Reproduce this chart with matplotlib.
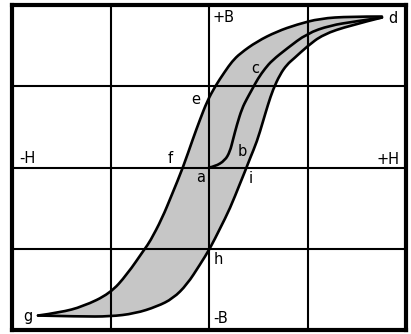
import numpy as np
import matplotlib.pyplot as plt
from matplotlib.path import Path
from matplotlib.patches import PathPatch

# upper (descending) branch, g -> f -> e -> d
upper_h = [-1.736, -1.513, -1.279, -1.005, -0.832, -0.650, -0.599, -0.477, -0.376,
           -0.264, -0.162, -0.091, -0.020, 0.061, 0.162, 0.234, 0.315, 0.487,
           0.690, 0.893, 1.127, 1.431, 1.756]
upper_b = [-1.822, -1.785, -1.711, -1.551, -1.317, -0.997, -0.911, -0.628, -0.332,
           0.0, 0.357, 0.591, 0.812, 0.997, 1.182, 1.305, 1.403, 1.551,
           1.674, 1.760, 1.834, 1.858, 1.858]

# lower (ascending) branch, g -> h -> i -> d
lower_h = [-1.736, -1.310, -1.005, -0.751, -0.528, -0.365, -0.223, -0.091, 0.010,
           0.112, 0.213, 0.315, 0.365, 0.416, 0.487, 0.548, 0.599, 0.650,
           0.721, 0.792, 0.863, 0.995, 1.157, 1.431, 1.756]
lower_b = [-1.822, -1.834, -1.834, -1.797, -1.711, -1.612, -1.440, -1.194, -0.997,
           -0.751, -0.505, -0.197, -0.049, 0.111, 0.320, 0.566, 0.775, 0.960,
           1.145, 1.268, 1.342, 1.489, 1.637, 1.748, 1.846]

# initial magnetisation curve a -> b -> c -> d
init_h = [0.0, 0.061, 0.162, 0.213, 0.244, 0.284, 0.335, 0.386, 0.437, 0.497,
          0.569, 0.640, 0.792, 0.995, 1.228, 1.482, 1.756]
init_b = [0.0, 0.012, 0.086, 0.197, 0.345, 0.529, 0.726, 0.849, 0.960, 1.095,
          1.218, 1.317, 1.465, 1.649, 1.748, 1.797, 1.846]

point_labels = ['a', 'b', 'c', 'd', 'e', 'f', 'g', 'h', 'i']
axis_labels = ['+B', '-B', '-H', '+H']


def smooth_verts(xs, ys):
    # quadratic bezier chain: read points are control points, midpoints on the curve
    pts = np.column_stack([xs, ys])
    verts = [pts[0]]
    for k in range(1, len(pts) - 1):
        verts.append(pts[k])
        if k < len(pts) - 2:
            verts.append((pts[k] + pts[k + 1]) / 2)
        else:
            verts.append(pts[k + 1])
    return verts


def curve_path(xs, ys):
    verts = smooth_verts(xs, ys)
    codes = [Path.MOVETO] + [Path.CURVE3] * (len(verts) - 1)
    return Path(verts, codes)


plt.rcParams['font.family'] = ['DejaVu Sans']

fig = plt.figure(figsize=(4.11, 3.34), dpi=100)
ax = fig.add_axes([12 / 411, 4 / 334, 394 / 411, 325 / 334])
ax.set_xlim(-2, 2)
ax.set_ylim(-2, 2)

ax.set_xticks([-1, 0, 1])
ax.set_yticks([-1, 0, 1])
ax.tick_params(length=0, labelbottom=False, labelleft=False)
ax.grid(True, color='black', linewidth=1.5, zorder=1)
ax.set_axisbelow(False)
for sp in ax.spines.values():
    sp.set_linewidth(3)

# shaded loop area between the two branches
up = smooth_verts(upper_h, upper_b)
low = smooth_verts(lower_h, lower_b)[::-1]
loop_verts = up + low + [up[0]]
loop_codes = ([Path.MOVETO] + [Path.CURVE3] * (len(up) - 1) + [Path.LINETO]
              + [Path.CURVE3] * (len(low) - 1) + [Path.CLOSEPOLY])
ax.add_patch(PathPatch(Path(loop_verts, loop_codes), facecolor='#c6c6c6',
                       edgecolor='none', zorder=0.5))

for xs, ys in [(upper_h, upper_b), (lower_h, lower_b), (init_h, init_b)]:
    ax.add_patch(PathPatch(curve_path(xs, ys), facecolor='none', edgecolor='black',
                           lw=1.9, capstyle='round', zorder=3))

pos = {'a': (-0.09, -0.12), 'b': (0.335, 0.20), 'c': (0.47, 1.22),
       'd': (1.87, 1.83), 'e': (-0.13, 0.84), 'f': (-0.39, 0.11),
       'g': (-1.84, -1.83), 'h': (0.09, -1.13), 'i': (0.42, -0.135)}
for lab in point_labels:
    x, y = pos[lab]
    ax.text(x, y, lab, fontsize=10.5, ha='center', va='center', zorder=4)

ax.text(0.04, 1.84, axis_labels[0], fontsize=10.5, ha='left', va='center')
ax.text(0.04, -1.86, axis_labels[1], fontsize=10.5, ha='left', va='center')
ax.text(-1.93, 0.11, axis_labels[2], fontsize=10.5, ha='left', va='center')
ax.text(1.93, 0.10, axis_labels[3], fontsize=10.5, ha='right', va='center')

fig.savefig('out.png', dpi=100)
